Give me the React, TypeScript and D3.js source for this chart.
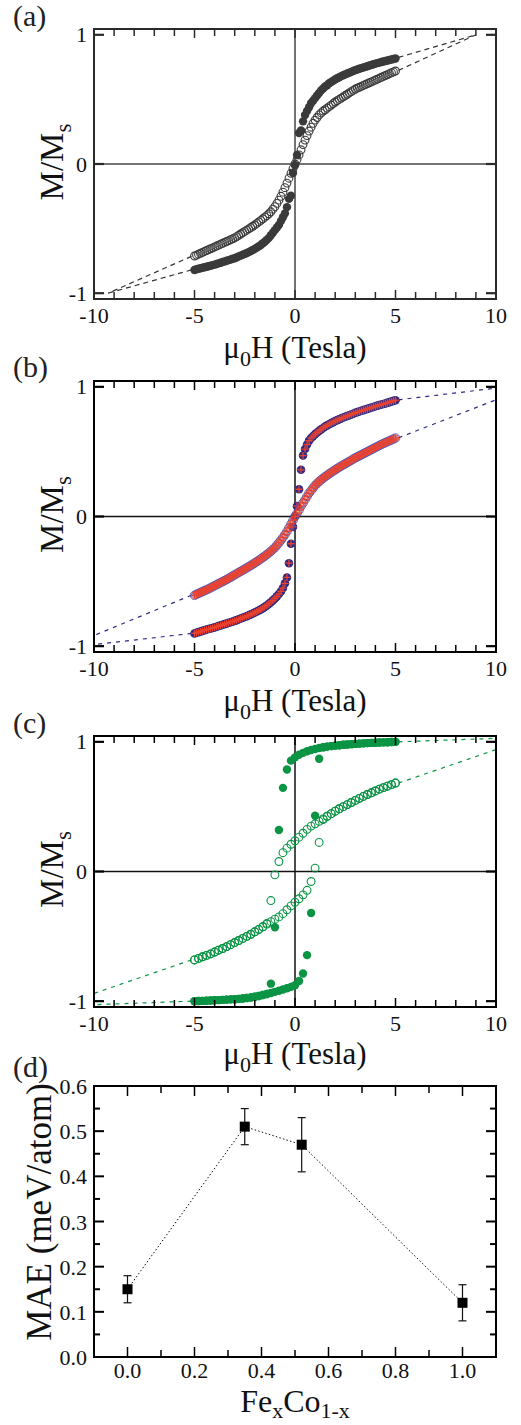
import React, { useEffect, useRef } from "react";
import * as d3 from "d3";

// ---- data ----
// panels (a), (b): one sweep, 0.1 T steps
const FIELD_AB = [
  -5.0, -4.9, -4.8, -4.7, -4.6, -4.5, -4.4, -4.3, -4.2, -4.1,
  -4.0, -3.9, -3.8, -3.7, -3.6, -3.5, -3.4, -3.3, -3.2, -3.1,
  -3.0, -2.9, -2.8, -2.7, -2.6, -2.5, -2.4, -2.3, -2.2, -2.1,
  -2.0, -1.9, -1.8, -1.7, -1.6, -1.5, -1.4, -1.3, -1.2, -1.1,
  -1.0, -0.9, -0.8, -0.7, -0.6, -0.5, -0.4, -0.3, -0.2, -0.1,
  0,
  0.1, 0.2, 0.3, 0.4, 0.5, 0.6, 0.7, 0.8, 0.9, 1.0,
  1.1, 1.2, 1.3, 1.4, 1.5, 1.6, 1.7, 1.8, 1.9, 2.0,
  2.1, 2.2, 2.3, 2.4, 2.5, 2.6, 2.7, 2.8, 2.9, 3.0,
  3.1, 3.2, 3.3, 3.4, 3.5, 3.6, 3.7, 3.8, 3.9, 4.0,
  4.1, 4.2, 4.3, 4.4, 4.5, 4.6, 4.7, 4.8, 4.9, 5.0,
];

const A_FILLED = [
  -0.82, -0.815, -0.811, -0.807, -0.803, -0.799, -0.795, -0.791, -0.787, -0.783,
  -0.779, -0.774, -0.769, -0.764, -0.759, -0.754, -0.749, -0.744, -0.739, -0.734,
  -0.729, -0.722, -0.715, -0.709, -0.702, -0.696, -0.689, -0.682, -0.674, -0.666,
  -0.657, -0.647, -0.637, -0.627, -0.613, -0.602, -0.587, -0.572, -0.552, -0.532,
  -0.512, -0.492, -0.472, -0.442, -0.412, -0.382, -0.334, -0.27, -0.245, -0.07,
  -0.01,
  0.07, 0.24, 0.26, 0.33, 0.38, 0.41, 0.44, 0.47, 0.49, 0.51,
  0.53, 0.55, 0.57, 0.585, 0.6, 0.61, 0.625, 0.635, 0.645, 0.655,
  0.664, 0.672, 0.68, 0.687, 0.694, 0.7, 0.707, 0.713, 0.72, 0.727,
  0.732, 0.737, 0.742, 0.747, 0.752, 0.757, 0.762, 0.767, 0.772, 0.777,
  0.781, 0.785, 0.789, 0.793, 0.797, 0.801, 0.805, 0.809, 0.813, 0.817,
];

const A_OPEN = [
  -0.712, -0.705, -0.698, -0.691, -0.684, -0.677, -0.67, -0.663, -0.656, -0.649,
  -0.642, -0.635, -0.628, -0.621, -0.614, -0.607, -0.6, -0.593, -0.586, -0.579,
  -0.572, -0.562, -0.552, -0.542, -0.532, -0.522, -0.512, -0.502, -0.492, -0.482,
  -0.472, -0.46, -0.448, -0.436, -0.424, -0.412, -0.4, -0.385, -0.37, -0.35,
  -0.33, -0.305, -0.28, -0.25, -0.218, -0.183, -0.148, -0.11, -0.072, -0.036,
  0,
  0.035, 0.07, 0.11, 0.15, 0.185, 0.22, 0.255, 0.285, 0.315, 0.34,
  0.36, 0.38, 0.395, 0.41, 0.42, 0.432, 0.444, 0.456, 0.468, 0.48,
  0.49, 0.5, 0.51, 0.52, 0.53, 0.54, 0.55, 0.56, 0.57, 0.58,
  0.587, 0.594, 0.601, 0.608, 0.615, 0.622, 0.629, 0.636, 0.643, 0.65,
  0.657, 0.664, 0.671, 0.678, 0.685, 0.692, 0.699, 0.706, 0.713, 0.72,
];

const B_FILLED = [
  -0.902, -0.897, -0.892, -0.887, -0.882, -0.877, -0.872, -0.868, -0.864, -0.86,
  -0.855, -0.85, -0.845, -0.84, -0.835, -0.83, -0.825, -0.82, -0.815, -0.81,
  -0.805, -0.799, -0.793, -0.787, -0.781, -0.775, -0.769, -0.762, -0.755, -0.748,
  -0.741, -0.733, -0.725, -0.716, -0.707, -0.697, -0.686, -0.674, -0.661, -0.647,
  -0.632, -0.616, -0.598, -0.578, -0.552, -0.515, -0.47, -0.36, -0.21, -0.08,
  0,
  0.08, 0.21, 0.36, 0.47, 0.52, 0.555, 0.585, 0.605, 0.62, 0.635,
  0.648, 0.66, 0.672, 0.683, 0.694, 0.703, 0.712, 0.72, 0.728, 0.736,
  0.743, 0.75, 0.757, 0.763, 0.769, 0.775, 0.781, 0.787, 0.793, 0.8,
  0.805, 0.81, 0.815, 0.82, 0.825, 0.83, 0.835, 0.84, 0.845, 0.85,
  0.855, 0.86, 0.864, 0.868, 0.872, 0.877, 0.882, 0.887, 0.892, 0.897,
];

const B_OPEN = [
  -0.608, -0.6, -0.593, -0.586, -0.579, -0.572, -0.565, -0.558, -0.55, -0.542,
  -0.534, -0.526, -0.518, -0.51, -0.502, -0.494, -0.486, -0.477, -0.468, -0.459,
  -0.45, -0.441, -0.432, -0.423, -0.414, -0.405, -0.396, -0.387, -0.378, -0.368,
  -0.358, -0.348, -0.338, -0.327, -0.316, -0.305, -0.293, -0.281, -0.268, -0.254,
  -0.24, -0.222, -0.203, -0.183, -0.162, -0.14, -0.115, -0.087, -0.058, -0.03,
  0,
  0.025, 0.05, 0.08, 0.105, 0.13, 0.155, 0.18, 0.2, 0.22, 0.24,
  0.255, 0.27, 0.283, 0.295, 0.307, 0.318, 0.329, 0.34, 0.35, 0.36,
  0.37, 0.38, 0.389, 0.398, 0.407, 0.416, 0.425, 0.434, 0.443, 0.452,
  0.46, 0.468, 0.476, 0.484, 0.492, 0.5, 0.508, 0.516, 0.524, 0.532,
  0.54, 0.548, 0.556, 0.563, 0.57, 0.577, 0.584, 0.591, 0.598, 0.605,
];

// panel (c): down and up sweeps, 0.2 T steps
const FIELD_C = [
  -5.0, -4.8, -4.6, -4.4, -4.2, -4.0, -3.8, -3.6, -3.4, -3.2,
  -3.0, -2.8, -2.6, -2.4, -2.2,
  -2.0, -1.8, -1.6, -1.4,
  -1.2, -1.0, -0.8, -0.6, -0.4, -0.2,
  0.0, 0.2, 0.4, 0.6, 0.8,
  1.0, 1.2, 1.4, 1.6, 1.8,
  2.0, 2.2, 2.4, 2.6, 2.8,
  3.0, 3.2, 3.4, 3.6, 3.8,
  4.0, 4.2, 4.4, 4.6, 4.8,
  5.0,
];

const C_FILLED_DOWN = [
  -1.0, -0.999, -0.998, -0.997, -0.995, -0.993, -0.992, -0.99, -0.988, -0.986,
  -0.985, -0.982, -0.979, -0.976, -0.972,
  -0.966, -0.96, -0.953, -0.945,
  -0.865, -0.43, 0.32, 0.645, 0.787, 0.855,
  0.88, 0.9, 0.915, 0.927, 0.937,
  0.945, 0.952, 0.958, 0.963, 0.967,
  0.971, 0.974, 0.977, 0.98, 0.982,
  0.984, 0.986, 0.988, 0.99, 0.992,
  0.993, 0.995, 0.996, 0.997, 0.999,
  1.0,
];

const C_FILLED_UP = [
  -1.0, -0.999, -0.998, -0.997, -0.995, -0.993, -0.992, -0.99, -0.988, -0.986,
  -0.985, -0.982, -0.979, -0.976, -0.972,
  -0.966, -0.96, -0.953, -0.945,
  -0.937, -0.928, -0.92, -0.91, -0.9, -0.89,
  -0.877, -0.845, -0.787, -0.645, -0.32,
  0.43, 0.87, 0.958, 0.963, 0.967,
  0.971, 0.974, 0.977, 0.98, 0.982,
  0.984, 0.986, 0.988, 0.99, 0.992,
  0.993, 0.995, 0.996, 0.997, 0.999,
  1.0,
];

const C_OPEN_DOWN = [
  -0.682, -0.67, -0.658, -0.647, -0.635, -0.621, -0.607, -0.594, -0.579, -0.564,
  -0.548, -0.532, -0.516, -0.5, -0.484,
  -0.465, -0.446, -0.426, -0.4,
  -0.224, -0.026, 0.077, 0.145, 0.18, 0.21,
  0.237, 0.265, 0.295, 0.325, 0.35,
  0.368, 0.387, 0.406, 0.426, 0.446,
  0.465, 0.484, 0.5, 0.516, 0.532,
  0.548, 0.564, 0.579, 0.594, 0.607,
  0.621, 0.635, 0.647, 0.658, 0.67,
  0.682,
];

const C_OPEN_UP = [
  -0.682, -0.67, -0.658, -0.647, -0.635, -0.621, -0.607, -0.594, -0.579, -0.564,
  -0.548, -0.532, -0.516, -0.5, -0.484,
  -0.465, -0.446, -0.426, -0.406,
  -0.387, -0.368, -0.35, -0.325, -0.295, -0.265,
  -0.237, -0.21, -0.18, -0.145, -0.077,
  0.026, 0.224, 0.4, 0.426, 0.446,
  0.465, 0.484, 0.5, 0.516, 0.532,
  0.548, 0.564, 0.579, 0.594, 0.607,
  0.621, 0.635, 0.647, 0.658, 0.67,
  0.682,
];

// dashed extrapolations beyond +-5 T
const TAIL_A = [
  { h: [5.15, 9.0], m: [0.825, 1.0] },
  { h: [5.15, 9.0], m: [0.725, 1.0] },
  { h: [-5.15, -9.3], m: [-0.82, -1.0] },
  { h: [-5.15, -9.3], m: [-0.715, -1.0] },
];
const TAIL_B = [
  { h: [5.15, 10], m: [0.9, 0.99] },
  { h: [5.15, 10], m: [0.607, 0.9] },
  { h: [-5.15, -10], m: [-0.607, -0.918] },
  { h: [-5.15, -10], m: [-0.902, -0.988] },
];
const TAIL_C = [
  { h: [5.15, 10], m: [1.0, 1.027] },
  { h: [5.15, 10], m: [0.682, 0.94] },
  { h: [-5.15, -10], m: [-0.682, -0.94] },
  { h: [-5.15, -10], m: [-1.0, -1.027] },
];

const LOOP_X_LABELS = [-10, -5, 0, 5, 10];
const LOOP_Y_LABELS = [-1, 0, 1];

// panel (d)
const COMPOSITION = [0.0, 0.35, 0.52, 1.0];
const MAE = [0.15, 0.51, 0.47, 0.12];
const MAE_ERR = [0.03, 0.04, 0.06, 0.04];
const D_X_LABELS = [0.0, 0.2, 0.4, 0.6, 0.8, 1.0];
const D_Y_LABELS = [0.0, 0.1, 0.2, 0.3, 0.4, 0.5, 0.6];

const SERIF = "Liberation Serif";
const LEFT = 94;
const RIGHT = 496;

function txt(sel) {
  return sel.style("font-family", SERIF).attr("fill", "#111");
}

function panelLabel(svg, text, yBase) {
  txt(svg.append("text"))
    .attr("x", 13)
    .attr("y", yBase)
    .attr("font-size", 30)
    .attr("fill", "#222")
    .text(text);
}

function muLabel(svg, yBase) {
  const t = txt(svg.append("text"))
    .attr("x", 295)
    .attr("y", yBase)
    .attr("text-anchor", "middle")
    .attr("font-size", 31);
  t.append("tspan").text("\u03bc");
  t.append("tspan").attr("dy", 8).attr("font-size", 22).text("0");
  t.append("tspan").attr("dy", -8).text("H (Tesla)");
}

function msLabel(svg, yc) {
  const t = txt(svg.append("text"))
    .attr("transform", `translate(63,${yc}) rotate(-90)`)
    .attr("text-anchor", "middle")
    .attr("font-size", 33);
  t.append("tspan").text("M/M");
  t.append("tspan").attr("dy", 8).attr("font-size", 23).text("s");
}

function loopPanel(svg, cfg) {
  const x = d3.scaleLinear().domain([-10, 10]).range([LEFT, RIGHT]);
  const y = d3.scaleLinear().domain([-1.045, 1.045]).range([cfg.bottom, cfg.top]);
  const g = svg.append("g");
  const axisColor = cfg.axisColor;

  // zero lines
  g.append("line")
    .attr("x1", x(0)).attr("x2", x(0))
    .attr("y1", cfg.top).attr("y2", cfg.bottom)
    .attr("stroke", cfg.zeroColor).attr("stroke-width", 1.5);
  g.append("line")
    .attr("x1", LEFT).attr("x2", RIGHT)
    .attr("y1", y(0)).attr("y2", y(0))
    .attr("stroke", cfg.zeroColor).attr("stroke-width", 1.5);

  // dashed tails
  const line = d3.line().x((d) => x(d[0])).y((d) => y(d[1]));
  cfg.tails.forEach((t) => {
    g.append("path")
      .attr("d", line(t.h.map((h, i) => [h, t.m[i]])))
      .attr("fill", "none")
      .attr("stroke", cfg.tailColor)
      .attr("stroke-width", 1.2)
      .attr("stroke-dasharray", cfg.dash);
  });

  // markers
  cfg.series.forEach((s) => {
    const pts = s.h.map((h, i) => [h, s.m[i]]);
    const grp = g.append("g");
    if (s.kind === "filled") {
      grp.selectAll("circle").data(pts).join("circle")
        .attr("cx", (d) => x(d[0])).attr("cy", (d) => y(d[1]))
        .attr("r", 4.2).attr("fill", s.color);
    } else if (s.kind === "open") {
      grp.selectAll("circle").data(pts).join("circle")
        .attr("cx", (d) => x(d[0])).attr("cy", (d) => y(d[1]))
        .attr("r", 3.9).attr("fill", "none")
        .attr("stroke", s.color).attr("stroke-width", 1.1);
    } else if (s.kind === "filledCross") {
      grp.selectAll("circle").data(pts).join("circle")
        .attr("cx", (d) => x(d[0])).attr("cy", (d) => y(d[1]))
        .attr("r", 4.3).attr("fill", s.color);
      grp.selectAll("path").data(pts).join("path")
        .attr("transform", (d) => `translate(${x(d[0])},${y(d[1])})`)
        .attr("d", "M-3.6,0H3.6M0,-3.6V3.6")
        .attr("stroke", s.cross).attr("stroke-width", 1.3);
    } else if (s.kind === "openCross") {
      grp.selectAll("circle.o").data(pts).join("circle")
        .attr("class", "o")
        .attr("cx", (d) => x(d[0])).attr("cy", (d) => y(d[1]))
        .attr("r", 4.3).attr("fill", "none")
        .attr("stroke", s.color).attr("stroke-width", 0.8);
      grp.selectAll("circle.i").data(pts).join("circle")
        .attr("class", "i")
        .attr("cx", (d) => x(d[0])).attr("cy", (d) => y(d[1]))
        .attr("r", 3.3).attr("fill", "none")
        .attr("stroke", s.cross).attr("stroke-width", 0.9);
      grp.selectAll("path").data(pts).join("path")
        .attr("transform", (d) => `translate(${x(d[0])},${y(d[1])})`)
        .attr("d", "M-3,0H3M0,-3V3")
        .attr("stroke", s.cross).attr("stroke-width", 1);
    }
  });

  // frame
  g.append("rect")
    .attr("x", LEFT).attr("y", cfg.top)
    .attr("width", RIGHT - LEFT).attr("height", cfg.bottom - cfg.top)
    .attr("fill", "none").attr("stroke", axisColor).attr("stroke-width", 2);

  // x ticks (inside, top and bottom)
  d3.range(-9, 10).forEach((v) => {
    const len = v % 5 === 0 ? 9 : 7;
    g.append("line").attr("x1", x(v)).attr("x2", x(v))
      .attr("y1", cfg.bottom).attr("y2", cfg.bottom - len)
      .attr("stroke", axisColor).attr("stroke-width", 1.5);
    g.append("line").attr("x1", x(v)).attr("x2", x(v))
      .attr("y1", cfg.top).attr("y2", cfg.top + len)
      .attr("stroke", axisColor).attr("stroke-width", 1.5);
  });
  // y ticks
  LOOP_Y_LABELS.forEach((v) => {
    g.append("line").attr("x1", LEFT).attr("x2", LEFT + 10)
      .attr("y1", y(v)).attr("y2", y(v))
      .attr("stroke", axisColor).attr("stroke-width", 2.2);
    g.append("line").attr("x1", RIGHT).attr("x2", RIGHT - 10)
      .attr("y1", y(v)).attr("y2", y(v))
      .attr("stroke", axisColor).attr("stroke-width", 2.2);
  });

  // tick labels
  LOOP_X_LABELS.forEach((v) => {
    txt(g.append("text"))
      .attr("x", x(v)).attr("y", cfg.bottom + 24)
      .attr("text-anchor", "middle")
      .attr("font-size", 22)
      .text(String(v));
  });
  LOOP_Y_LABELS.forEach((v) => {
    txt(g.append("text"))
      .attr("x", LEFT - 7).attr("y", y(v) + 7.5)
      .attr("text-anchor", "end")
      .attr("font-size", 22)
      .text(String(v));
  });

  msLabel(svg, (cfg.top + cfg.bottom) / 2 - 2);
  muLabel(svg, cfg.xlabelY);
  panelLabel(svg, cfg.label, cfg.labelY);
}

function maePanel(svg) {
  const top = 1086;
  const bottom = 1357;
  const x = d3.scaleLinear().domain([-0.1, 1.1]).range([LEFT, RIGHT]);
  const y = d3.scaleLinear().domain([0, 0.6]).range([bottom, top]);
  const g = svg.append("g");
  const pts = COMPOSITION.map((c, i) => ({ c, v: MAE[i], e: MAE_ERR[i] }));

  // dotted guide
  g.append("path")
    .attr("d", d3.line().x((d) => x(d.c)).y((d) => y(d.v))(pts))
    .attr("fill", "none").attr("stroke", "#111")
    .attr("stroke-width", 1).attr("stroke-dasharray", "1.5,2.2");

  // error bars
  pts.forEach((d) => {
    g.append("line").attr("x1", x(d.c)).attr("x2", x(d.c))
      .attr("y1", y(d.v - d.e)).attr("y2", y(d.v + d.e))
      .attr("stroke", "#111").attr("stroke-width", 1.2);
    [d.v - d.e, d.v + d.e].forEach((yy) => {
      g.append("line").attr("x1", x(d.c) - 4).attr("x2", x(d.c) + 4)
        .attr("y1", y(yy)).attr("y2", y(yy))
        .attr("stroke", "#111").attr("stroke-width", 1.2);
    });
  });
  g.selectAll("rect.sq").data(pts).join("rect")
    .attr("class", "sq")
    .attr("x", (d) => x(d.c) - 5).attr("y", (d) => y(d.v) - 5)
    .attr("width", 10).attr("height", 10).attr("fill", "#000");

  // frame
  g.append("rect")
    .attr("x", LEFT).attr("y", top)
    .attr("width", RIGHT - LEFT).attr("height", bottom - top)
    .attr("fill", "none").attr("stroke", "#000").attr("stroke-width", 2);

  d3.range(0, 11).forEach((i) => {
    const v = i / 10;
    const len = i % 2 === 0 ? 10 : 7;
    g.append("line").attr("x1", x(v)).attr("x2", x(v))
      .attr("y1", bottom).attr("y2", bottom - len)
      .attr("stroke", "#000").attr("stroke-width", 1.5);
    g.append("line").attr("x1", x(v)).attr("x2", x(v))
      .attr("y1", top).attr("y2", top + len)
      .attr("stroke", "#000").attr("stroke-width", 1.5);
  });
  d3.range(1, 12).forEach((i) => {
    const v = i * 0.05;
    const len = i % 2 === 0 ? 10 : 6;
    g.append("line").attr("x1", LEFT).attr("x2", LEFT + len)
      .attr("y1", y(v)).attr("y2", y(v))
      .attr("stroke", "#000").attr("stroke-width", 2);
    g.append("line").attr("x1", RIGHT).attr("x2", RIGHT - len)
      .attr("y1", y(v)).attr("y2", y(v))
      .attr("stroke", "#000").attr("stroke-width", 2);
  });

  D_X_LABELS.forEach((v) => {
    txt(g.append("text"))
      .attr("x", x(v)).attr("y", bottom + 21)
      .attr("text-anchor", "middle")
      .attr("font-size", 22)
      .text(v.toFixed(1));
  });
  D_Y_LABELS.forEach((v) => {
    txt(g.append("text"))
      .attr("x", LEFT - 7).attr("y", y(v) + 8)
      .attr("text-anchor", "end")
      .attr("font-size", 22)
      .text(v.toFixed(1));
  });

  const xl = txt(svg.append("text"))
    .attr("x", 295).attr("y", 1412)
    .attr("text-anchor", "middle")
    .attr("font-size", 32);
  xl.append("tspan").text("Fe");
  xl.append("tspan").attr("dy", 6).attr("font-size", 22).text("x");
  xl.append("tspan").attr("dy", -6).text("Co");
  xl.append("tspan").attr("dy", 6).attr("font-size", 22).text("1-x");

  txt(svg.append("text"))
    .attr("transform", "translate(51,1212) rotate(-90)")
    .attr("text-anchor", "middle")
    .attr("font-size", 35)
    .text("MAE (meV/atom)");

  panelLabel(svg, "(d)", 1077);
}

export default function App() {
  const ref = useRef(null);

  useEffect(() => {
    const svg = d3.select(ref.current);
    svg.selectAll("*").remove();

    svg.append("rect").attr("width", 521).attr("height", 1425).attr("fill", "#fff");

    loopPanel(svg, {
      top: 29, bottom: 299, xlabelY: 358, label: "(a)", labelY: 26,
      axisColor: "#2a2a2a", zeroColor: "#444", tailColor: "#333", dash: "5,4",
      tails: TAIL_A,
      series: [
        { h: FIELD_AB, m: A_FILLED, kind: "filled", color: "#3a3a3a" },
        { h: FIELD_AB, m: A_OPEN, kind: "open", color: "#3a3a3a" },
      ],
    });

    loopPanel(svg, {
      top: 381, bottom: 652, xlabelY: 711, label: "(b)", labelY: 377,
      axisColor: "#000", zeroColor: "#111", tailColor: "#2c2a8a", dash: "4,5",
      tails: TAIL_B,
      series: [
        { h: FIELD_AB, m: B_FILLED, kind: "filledCross", color: "#2e2a86", cross: "#e8412f" },
        { h: FIELD_AB, m: B_OPEN, kind: "openCross", color: "#4a46a6", cross: "#e8412f" },
      ],
    });

    loopPanel(svg, {
      top: 736, bottom: 1007, xlabelY: 1064, label: "(c)", labelY: 733,
      axisColor: "#000", zeroColor: "#111", tailColor: "#0a9444", dash: "4,5",
      tails: TAIL_C,
      series: [
        { h: FIELD_C, m: C_OPEN_DOWN, kind: "open", color: "#0a9444" },
        { h: FIELD_C, m: C_OPEN_UP, kind: "open", color: "#0a9444" },
        { h: FIELD_C, m: C_FILLED_DOWN, kind: "filled", color: "#0a9444" },
        { h: FIELD_C, m: C_FILLED_UP, kind: "filled", color: "#0a9444" },
      ],
    });

    maePanel(svg);
  }, []);

  return (
    <svg
      ref={ref}
      width={521}
      height={1425}
      style={{ position: "absolute", left: 0, top: 0, display: "block" }}
    />
  );
}
